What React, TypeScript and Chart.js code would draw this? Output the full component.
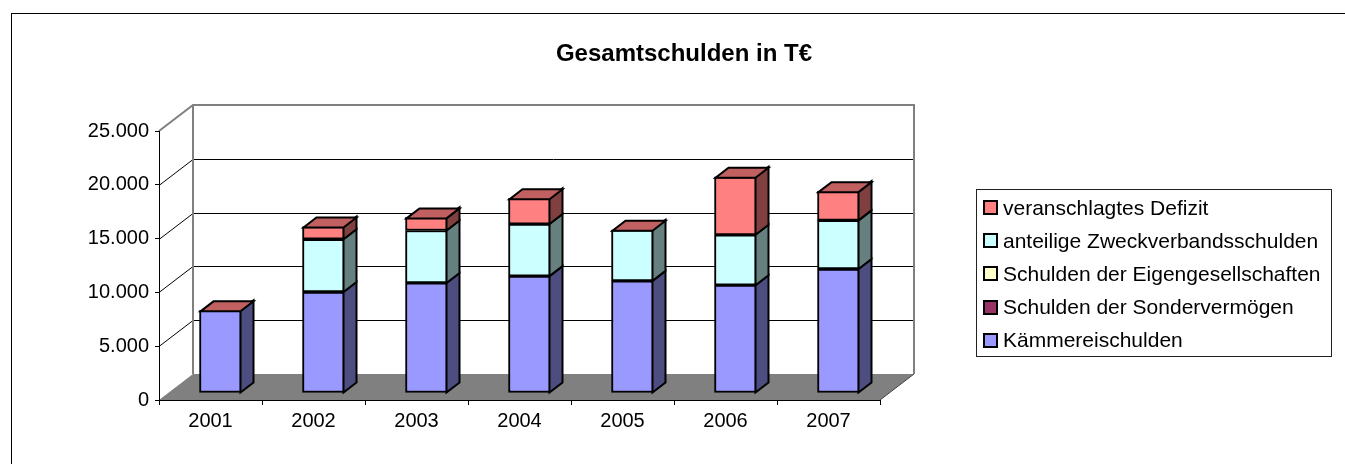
import React, { useEffect, useRef } from 'react';
import { Chart, registerables } from 'chart.js';

Chart.register(...registerables);

// ---------- data ----------
const years = ['2001', '2002', '2003', '2004', '2005', '2006', '2007'];
const kaemmereischulden = [7680, 9390, 10230, 10860, 10420, 10020, 11520];
const sondervermoegen = [0, 0, 0, 0, 0, 0, 0];
const eigengesellschaften = [0, 0, 0, 0, 0, 0, 0];
const zweckverbandsschulden = [0, 4900, 4870, 4840, 4750, 4680, 4520];
const defizit = [0, 1180, 1220, 2400, 0, 5400, 2720];
const yTicks = [0, 5000, 10000, 15000, 20000, 25000];
const seriesNames = [
  'Kämmereischulden',
  'Schulden der Sondervermögen',
  'Schulden der Eigengesellschaften',
  'anteilige Zweckverbandsschulden',
  'veranschlagtes Defizit',
];
const chartTitle = 'Gesamtschulden in T€';

// ---------- styles ----------
const frontColors = ['#9999FF', '#993366', '#FFFFCC', '#CCFFFF', '#FF8080'];
const sideColors = ['#4D4D80', '#4D1A33', '#808066', '#668080', '#804040'];
const topColors = ['#7373BF', '#73264D', '#BFBF99', '#99BFBF', '#C06060'];
const FONT = "'Liberation Sans', Arial, Helvetica, sans-serif";

const WALL_DX = 34;
const WALL_DY = 26;
const BAR_OFF_X = 10;
const BAR_OFF_Y = -7;
const BAR_DX = 13;
const BAR_DY = 10;

const fmt = (v: number) => String(v).replace(/\B(?=(\d{3})+(?!\d))/g, '.');

const threeD = {
  id: 'threeD',
  beforeDraw(chart: any) {
    const { ctx, chartArea: a } = chart;
    const y = chart.scales.y;
    const L = a.left;
    const R = a.right;
    const B = y.getPixelForValue(0);
    const T = y.getPixelForValue(yTicks[yTicks.length - 1]);
    ctx.save();
    // floor
    ctx.fillStyle = '#808080';
    ctx.beginPath();
    ctx.moveTo(L, B);
    ctx.lineTo(L + WALL_DX, B - WALL_DY);
    ctx.lineTo(R + WALL_DX, B - WALL_DY);
    ctx.lineTo(R, B);
    ctx.closePath();
    ctx.fill();
    // grid lines on back and side wall
    ctx.strokeStyle = '#000';
    ctx.lineWidth = 1;
    for (const v of yTicks) {
      if (v === 0 || v === yTicks[yTicks.length - 1]) continue;
      const py = Math.round(y.getPixelForValue(v)) + 0.5;
      ctx.beginPath();
      ctx.moveTo(L, py);
      ctx.lineTo(L + WALL_DX, py - WALL_DY);
      ctx.lineTo(R + WALL_DX, py - WALL_DY);
      ctx.stroke();
    }
    // floor right edge
    ctx.strokeStyle = '#404040';
    ctx.beginPath();
    ctx.moveTo(R, B);
    ctx.lineTo(R + WALL_DX, B - WALL_DY);
    ctx.stroke();
    // wall frame
    ctx.strokeStyle = '#808080';
    ctx.lineWidth = 2;
    ctx.beginPath();
    ctx.moveTo(L, T);
    ctx.lineTo(L + WALL_DX, T - WALL_DY);
    ctx.lineTo(R + WALL_DX, T - WALL_DY);
    ctx.lineTo(R + WALL_DX, B - WALL_DY);
    ctx.moveTo(L + WALL_DX, T - WALL_DY);
    ctx.lineTo(L + WALL_DX, B - WALL_DY);
    ctx.stroke();
    ctx.restore();
  },
  beforeDatasetsDraw(chart: any) {
    chart.ctx.save();
    chart.ctx.translate(BAR_OFF_X, BAR_OFF_Y);
  },
  afterDatasetsDraw(chart: any) {
    const { ctx } = chart;
    const n = chart.data.datasets.length;
    ctx.lineWidth = 2;
    ctx.lineJoin = 'miter';
    ctx.strokeStyle = '#000';
    for (let i = 0; i < n; i++) {
      const meta = chart.getDatasetMeta(i);
      meta.data.forEach((el: any) => {
        const p = el.getProps(['x', 'y', 'base', 'width'], true);
        const right = p.x + p.width / 2 - 1;
        const top = Math.min(p.y, p.base);
        const bottom = Math.max(p.y, p.base);
        if (bottom - top < 0.5) return;
        ctx.fillStyle = sideColors[i];
        ctx.beginPath();
        ctx.moveTo(right, top);
        ctx.lineTo(right + BAR_DX, top - BAR_DY);
        ctx.lineTo(right + BAR_DX, bottom - BAR_DY);
        ctx.lineTo(right, bottom);
        ctx.closePath();
        ctx.fill();
        ctx.stroke();
      });
    }
    const last = chart.getDatasetMeta(n - 1);
    last.data.forEach((el: any) => {
      const p = el.getProps(['x', 'y', 'base', 'width'], true);
      const left = p.x - p.width / 2 + 1;
      const right = p.x + p.width / 2 - 1;
      const top = Math.min(p.y, p.base) + 1;
      ctx.fillStyle = topColors[n - 1];
      ctx.beginPath();
      ctx.moveTo(left, top);
      ctx.lineTo(left + BAR_DX, top - BAR_DY);
      ctx.lineTo(right + BAR_DX, top - BAR_DY);
      ctx.lineTo(right, top);
      ctx.closePath();
      ctx.fill();
      ctx.stroke();
    });
    ctx.restore();
  },
};

export default function App() {
  const ref = useRef<HTMLCanvasElement | null>(null);

  useEffect(() => {
    if (!ref.current) return;
    const seriesValues = [kaemmereischulden, sondervermoegen, eigengesellschaften, zweckverbandsschulden, defizit];
    const chart = new Chart(ref.current, {
      type: 'bar',
      data: {
        labels: years,
        datasets: seriesValues.map((vals, i) => ({
          label: seriesNames[i],
          data: vals,
          backgroundColor: frontColors[i],
          borderColor: '#000',
          borderWidth: 2,
          borderSkipped: false,
          barThickness: 42,
          clip: false as any,
        })),
      },
      options: {
        animation: false,
        responsive: true,
        maintainAspectRatio: false,
        layout: { padding: { left: 0, top: 131, right: 1345 - 880, bottom: 0 } },
        plugins: { legend: { display: false }, title: { display: false }, tooltip: { enabled: false } },
        font: { family: FONT },
        scales: {
          x: {
            stacked: true,
            grid: { drawOnChartArea: false, drawTicks: true, tickLength: 5, color: '#000', offset: true },
            border: { display: true, color: '#000', width: 1 },
            ticks: { color: '#000', font: { family: FONT, size: 20 }, padding: 4 },
            afterFit: (s: any) => { s.height = 464 - 400; },
          },
          y: {
            stacked: true,
            min: 0,
            max: yTicks[yTicks.length - 1],
            grid: { drawOnChartArea: false, drawTicks: true, tickLength: 4, color: '#000' },
            border: { display: true, color: '#000', width: 1 },
            ticks: { color: '#000', font: { family: FONT, size: 20 }, padding: 6, callback: (v: any) => fmt(Number(v)) },
            afterBuildTicks: (s: any) => { s.ticks = yTicks.map((v) => ({ value: v })); },
            afterFit: (s: any) => { s.width = 159; },
          },
        },
      } as any,
      plugins: [threeD],
    });
    return () => chart.destroy();
  }, []);

  const legendOrder = [4, 3, 2, 1, 0];

  return (
    <div style={{ position: 'fixed', left: 0, top: 0, width: 1345, height: 464, background: '#fff', overflow: 'hidden', fontFamily: FONT }}>
      <div style={{ position: 'absolute', left: 11, top: 13, width: 2000, height: 1000, border: '1px solid #000' }} />
      <div style={{ position: 'absolute', left: 0, top: 0, width: 1345, height: 464 }}>
        <canvas ref={ref} />
      </div>
      <div style={{ position: 'absolute', left: 0, width: 1368, top: 39, lineHeight: '28px', textAlign: 'center', fontWeight: 'bold', fontSize: 24, color: '#000' }}>
        {chartTitle}
      </div>
      <div style={{ position: 'absolute', left: 976, top: 189, width: 356, height: 168, border: '1px solid #222', boxSizing: 'border-box', paddingTop: 1 }}>
        {legendOrder.map((i) => (
          <div key={i} style={{ height: 33.2, display: 'flex', alignItems: 'center', whiteSpace: 'nowrap' }}>
            <span style={{ display: 'inline-block', width: 11, height: 11, border: '2px solid #000', background: frontColors[i], marginLeft: 6, marginRight: 5 }} />
            <span style={{ fontSize: 21, color: '#000' }}>{seriesNames[i]}</span>
          </div>
        ))}
      </div>
    </div>
  );
}
